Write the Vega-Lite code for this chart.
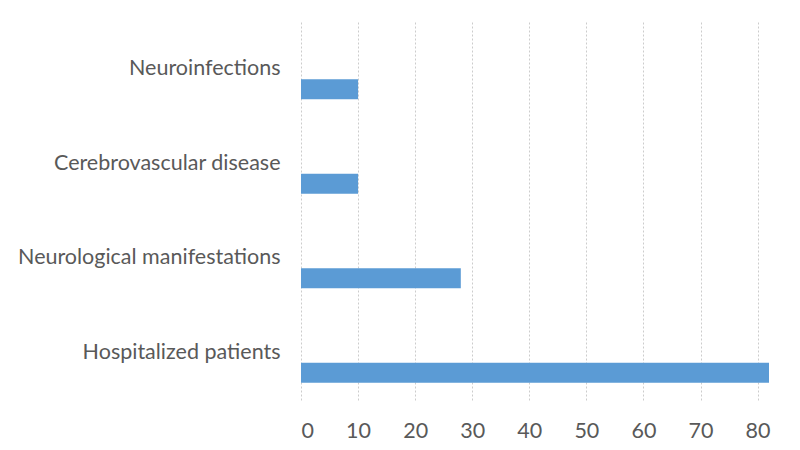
{
  "$schema": "https://vega.github.io/schema/vega-lite/v6.json",
  "width": 468,
  "height": 378,
  "autosize": "none",
  "padding": {"left": 301, "top": 22, "right": 31, "bottom": 50},
  "background": "white",
  "config": {"view": {"stroke": null}},
  "data": {"values": [
    {"category": "Neuroinfections", "value": 10},
    {"category": "Cerebrovascular disease", "value": 10},
    {"category": "Neurological manifestations", "value": 28},
    {"category": "Hospitalized patients", "value": 82}
  ]},
  "mark": {"type": "bar", "color": "#5B9BD5", "height": 20, "yOffset": 20},
  "encoding": {
    "y": {"field": "category", "type": "nominal", "sort": null, "title": null,
      "scale": {"paddingInner": 0, "paddingOuter": 0},
      "axis": {"domain": false, "ticks": false, "labelAlign": "right", "labelPadding": 21,
        "labelFont": "Lato", "labelFontSize": 21.5, "labelColor": "#595959", "labelLimit": 400}},
    "x": {"field": "value", "type": "quantitative", "title": null,
      "scale": {"domain": [0, 82], "nice": false},
      "axis": {"values": [0,10,20,30,40,50,60,70,80], "domain": false, "ticks": false,
        "grid": true, "gridColor": "#cccccc", "gridDash": [2, 2], "gridWidth": 1,
        "labelPadding": 20, "labelFont": "Lato", "labelFontSize": 21.5, "labelColor": "#595959"}}
  }
}
